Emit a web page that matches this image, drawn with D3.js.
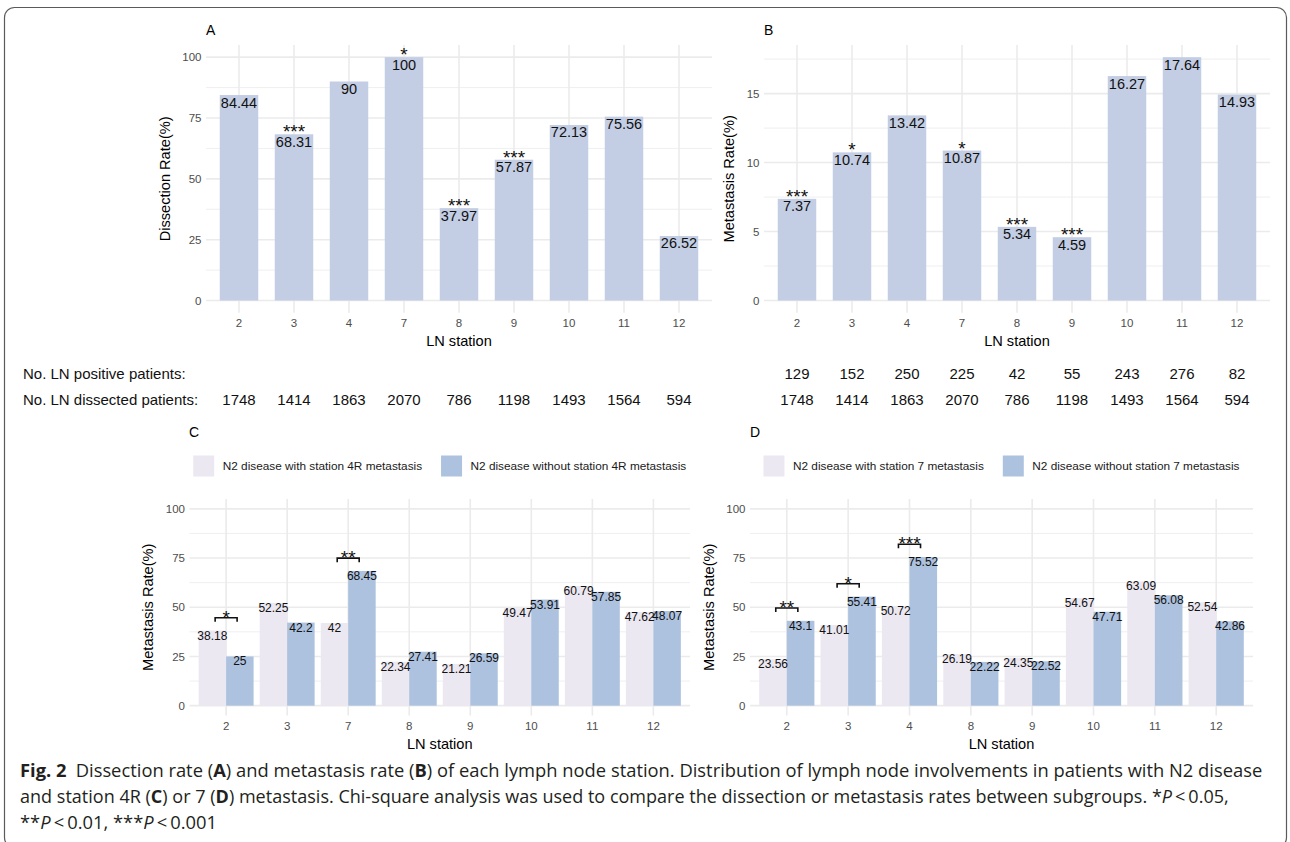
<!DOCTYPE html>
<html>
<head>
<meta charset="utf-8">
<script src="https://cdn.jsdelivr.net/npm/d3@7"></script>
<style>
  html, body { margin: 0; padding: 0; background: #fff; }
  svg { display: block; }
</style>
</head>
<body>
<div class="chart"></div>
<script>
// panel A / B data
const stationsAB = ['2', '3', '4', '7', '8', '9', '10', '11', '12'];
const dissectionRate = [84.44, 68.31, 90, 100, 37.97, 57.87, 72.13, 75.56, 26.52];
const dissectionSig = ['', '***', '', '*', '***', '***', '', '', ''];
const metastasisRate = [7.37, 10.74, 13.42, 10.87, 5.34, 4.59, 16.27, 17.64, 14.93];
const metastasisSig = ['***', '*', '', '*', '***', '***', '', '', ''];
const positivePatients = [129, 152, 250, 225, 42, 55, 243, 276, 82];
const dissectedPatients = [1748, 1414, 1863, 2070, 786, 1198, 1493, 1564, 594];

// panel C data
const stationsC = ['2', '3', '7', '8', '9', '10', '11', '12'];
const with4R = [38.18, 52.25, 42, 22.34, 21.21, 49.47, 60.79, 47.62];
const without4R = [25, 42.2, 68.45, 27.41, 26.59, 53.91, 57.85, 48.07];
const sigC = ['*', '', '**', '', '', '', '', ''];
const legendC = ['N2 disease with station 4R metastasis', 'N2 disease without station 4R metastasis'];

// panel D data
const stationsD = ['2', '3', '4', '8', '9', '10', '11', '12'];
const with7 = [23.56, 41.01, 50.72, 26.19, 24.35, 54.67, 63.09, 52.54];
const without7 = [43.1, 55.41, 75.52, 22.22, 22.52, 47.71, 56.08, 42.86];
const sigD = ['**', '*', '***', '', '', '', '', ''];
const legendD = ['N2 disease with station 7 metastasis', 'N2 disease without station 7 metastasis'];

const ticksPct = [0, 25, 50, 75, 100];
const ticksB = [0, 5, 10, 15];

const width = 1290;
const height = 842;

const color = {
  bar: '#c3cde4',
  withMet: '#ece8f1',
  withoutMet: '#adc2df',
  grid: '#ebebeb',
  tick: '#4d4d4d',
  text: '#111',
};
const font = '"Liberation Sans", Arial, sans-serif';

const svg = d3.select('.chart')
  .append('svg')
    .attr('width', width)
    .attr('height', height)
    .attr('viewBox', [0, 0, width, height]);

// outer frame
svg.append('rect')
  .attr('x', 4.5)
  .attr('y', 7.5)
  .attr('width', 1282)
  .attr('height', 840)
  .attr('rx', 10)
  .attr('fill', 'none')
  .attr('stroke', '#5a5a5a')
  .attr('stroke-width', 1.2);

function panel(opt) {
  const g = svg.append('g').style('font-family', font);
  const {left, right, top, bottom} = opt;

  const x = d3.scaleBand()
    .domain(opt.stations)
    .range([left, right])
    .paddingInner(0)
    .paddingOuter(0.1);

  const y = d3.scaleLinear()
    .domain(opt.domain)
    .range([bottom, top]);

  // minor grid: halfway between major ticks
  const step = opt.ticks[1] - opt.ticks[0];
  const minor = opt.ticks.map(t => t + step / 2)
    .filter(t => t < opt.domain[1]);

  g.append('g')
    .selectAll('line')
    .data(minor)
    .join('line')
      .attr('x1', left).attr('x2', right)
      .attr('y1', d => y(d)).attr('y2', d => y(d))
      .attr('stroke', color.grid)
      .attr('stroke-width', 0.8);

  g.append('g')
    .selectAll('line')
    .data(opt.ticks)
    .join('line')
      .attr('x1', left).attr('x2', right)
      .attr('y1', d => y(d)).attr('y2', d => y(d))
      .attr('stroke', color.grid)
      .attr('stroke-width', 1.6);

  g.append('g')
    .selectAll('line')
    .data(opt.stations)
    .join('line')
      .attr('x1', d => x(d) + x.bandwidth() / 2)
      .attr('x2', d => x(d) + x.bandwidth() / 2)
      .attr('y1', top).attr('y2', bottom)
      .attr('stroke', color.grid)
      .attr('stroke-width', 1.6);

  // axes
  const yAxis = g.append('g')
    .attr('transform', `translate(${left},0)`)
    .call(d3.axisLeft(y).tickValues(opt.ticks).tickSize(0).tickPadding(4.5));
  yAxis.select('.domain').remove();
  yAxis.selectAll('text')
    .attr('fill', color.tick)
    .style('font-size', '11.5px')
    .style('font-family', font);

  const xAxis = g.append('g')
    .attr('transform', `translate(0,${bottom})`)
    .call(d3.axisBottom(x).tickSize(0).tickPadding(6));
  xAxis.select('.domain').remove();
  xAxis.selectAll('text')
    .attr('fill', color.tick)
    .style('font-size', '11.5px')
    .style('font-family', font);

  let maxW = 0;
  yAxis.selectAll('text').each(function() {
    maxW = Math.max(maxW, this.getComputedTextLength());
  });

  // titles
  g.append('text')
    .attr('transform', `translate(${left - 4.5 - maxW - 12.5},${(top + bottom) / 2}) rotate(-90)`)
    .attr('text-anchor', 'middle')
    .style('font-size', '14.6px')
    .attr('fill', '#000')
    .text(opt.yTitle);

  g.append('text')
    .attr('x', (left + right) / 2)
    .attr('y', bottom + 33.5)
    .attr('text-anchor', 'middle')
    .style('font-size', '14.6px')
    .attr('fill', '#000')
    .text('LN station');

  g.append('text')
    .attr('x', opt.labelX)
    .attr('y', opt.labelY)
    .style('font-size', '14px')
    .attr('fill', '#000')
    .text(opt.label);

  return {g, x, y};
}

function singleBars(opt) {
  const {g, x, y} = panel(opt);
  const bw = x.bandwidth() * 0.7;
  const rows = opt.stations.map((s, i) => ({s, v: opt.values[i], sig: opt.sig[i]}));

  g.append('g')
    .selectAll('rect')
    .data(rows)
    .join('rect')
      .attr('x', d => x(d.s) + x.bandwidth() / 2 - bw / 2)
      .attr('width', bw)
      .attr('y', d => y(d.v))
      .attr('height', d => y(0) - y(d.v))
      .attr('fill', color.bar);

  g.append('g')
    .selectAll('text')
    .data(rows)
    .join('text')
      .attr('x', d => x(d.s) + x.bandwidth() / 2)
      .attr('y', d => y(d.v) + 12.5)
      .attr('text-anchor', 'middle')
      .style('font-size', '14.5px')
      .attr('fill', color.text)
      .text(d => String(d.v));

  g.append('g')
    .selectAll('text')
    .data(rows.filter(d => d.sig))
    .join('text')
      .attr('x', d => x(d.s) + x.bandwidth() / 2)
      .attr('y', d => y(d.v) + 4)
      .attr('text-anchor', 'middle')
      .style('font-size', '19px')
      .attr('fill', color.text)
      .text(d => d.sig);

  return {g, x, y};
}

function groupedBars(opt) {
  const {g, x, y} = panel(opt);
  const half = x.bandwidth() * 0.45;
  const rows = opt.stations.map((s, i) => ({s, a: opt.a[i], b: opt.b[i], sig: opt.sig[i]}));
  const cx = d => x(d.s) + x.bandwidth() / 2;

  const series = [
    {key: 'a', fill: color.withMet, off: -half},
    {key: 'b', fill: color.withoutMet, off: 0},
  ];

  series.forEach(sr => {
    g.append('g')
      .selectAll('rect')
      .data(rows)
      .join('rect')
        .attr('x', d => cx(d) + sr.off)
        .attr('width', half)
        .attr('y', d => y(d[sr.key]))
        .attr('height', d => y(0) - y(d[sr.key]))
        .attr('fill', sr.fill);
  });

  series.forEach(sr => {
    g.append('g')
      .selectAll('text')
      .data(rows)
      .join('text')
        .attr('x', d => cx(d) + sr.off + half / 2)
        .attr('y', d => y(d[sr.key]) + 9)
        .attr('text-anchor', 'middle')
        .style('font-size', '12px')
        .attr('fill', color.text)
        .text(d => String(d[sr.key]));
  });

  // significance brackets
  const sigRows = rows.filter(d => d.sig);
  const bx = x.bandwidth() * 0.18;
  const by = d => y(Math.max(d.a, d.b) + 6.5);

  g.append('g')
    .selectAll('path')
    .data(sigRows)
    .join('path')
      .attr('d', d => d3.line()([
        [cx(d) - bx, by(d) + 4], [cx(d) - bx, by(d)],
        [cx(d) + bx, by(d)], [cx(d) + bx, by(d) + 4]]))
      .attr('fill', 'none')
      .attr('stroke', '#111')
      .attr('stroke-width', 1.6);

  g.append('g')
    .selectAll('text')
    .data(sigRows)
    .join('text')
      .attr('x', d => cx(d))
      .attr('y', d => by(d) + 6)
      .attr('text-anchor', 'middle')
      .style('font-size', '19px')
      .attr('fill', color.text)
      .text(d => d.sig);

  // legend centred over the panel
  const lg = g.append('g');
  const items = [
    {label: opt.legend[0], fill: color.withMet},
    {label: opt.legend[1], fill: color.withoutMet},
  ];
  let pos = 0;
  items.forEach(it => {
    const item = lg.append('g').attr('transform', `translate(${pos},0)`);
    item.append('rect')
      .attr('x', 0).attr('y', -10.5)
      .attr('width', 21).attr('height', 21)
      .attr('fill', it.fill);
    const t = item.append('text')
      .attr('x', 29.5)
      .attr('y', 4.2)
      .style('font-size', '11.8px')
      .attr('fill', '#1a1a1a')
      .text(it.label);
    pos += 29.5 + t.node().getComputedTextLength() + 19;
  });
  const lw = pos - 19;
  lg.attr('transform', `translate(${(opt.left + opt.right) / 2 - lw / 2},${opt.legendY})`);
}

// A
const panelA = singleBars({
  stations: stationsAB, values: dissectionRate, sig: dissectionSig,
  ticks: ticksPct, domain: [-5, 105],
  left: 206, right: 712, top: 45, bottom: 312.7,
  yTitle: 'Dissection Rate(%)', label: 'A', labelX: 206, labelY: 35,
});

// B
const bMax = d3.max(metastasisRate);
const panelB = singleBars({
  stations: stationsAB, values: metastasisRate, sig: metastasisSig,
  ticks: ticksB, domain: [-bMax * 0.05, bMax * 1.05],
  left: 764, right: 1270, top: 45, bottom: 312.7,
  yTitle: 'Metastasis Rate(%)', label: 'B', labelX: 764, labelY: 35,
});

// patient counts under A and B
const table = svg.append('g')
  .style('font-family', font)
  .style('font-size', '15px')
  .attr('fill', '#111');

table.append('text').attr('x', 23).attr('y', 378.5).text('No. LN positive patients:');
table.append('text').attr('x', 23).attr('y', 404.5).text('No. LN dissected patients:');

const mid = sc => d => sc(d) + sc.bandwidth() / 2;
table.append('g')
  .selectAll('text')
  .data(dissectedPatients)
  .join('text')
    .attr('x', (d, i) => mid(panelA.x)(stationsAB[i]))
    .attr('y', 404.5)
    .attr('text-anchor', 'middle')
    .text(d => d);

table.append('g')
  .selectAll('text')
  .data(positivePatients)
  .join('text')
    .attr('x', (d, i) => mid(panelB.x)(stationsAB[i]))
    .attr('y', 378.5)
    .attr('text-anchor', 'middle')
    .text(d => d);

table.append('g')
  .selectAll('text')
  .data(dissectedPatients)
  .join('text')
    .attr('x', (d, i) => mid(panelB.x)(stationsAB[i]))
    .attr('y', 404.5)
    .attr('text-anchor', 'middle')
    .text(d => d);

// C
groupedBars({
  stations: stationsC, a: with4R, b: without4R, sig: sigC, legend: legendC,
  ticks: ticksPct, domain: [-5, 105],
  left: 189.5, right: 690, top: 499, bottom: 715.5, legendY: 466,
  yTitle: 'Metastasis Rate(%)', label: 'C', labelX: 189, labelY: 437,
});

// D
groupedBars({
  stations: stationsD, a: with7, b: without7, sig: sigD, legend: legendD,
  ticks: ticksPct, domain: [-5, 105],
  left: 750, right: 1253, top: 499, bottom: 715.5, legendY: 466,
  yTitle: 'Metastasis Rate(%)', label: 'D', labelX: 750, labelY: 437,
});

// caption
const captionLines = [
  [['Fig. 2', 'b'], ['\u2002Dissection rate ('], ['A', 'b'], [') and metastasis rate ('], ['B', 'b'],
   [') of each lymph node station. Distribution of lymph node involvements in patients with N2 disease']],
  [['and station 4R ('], ['C', 'b'], [') or 7 ('], ['D', 'b'],
   [') metastasis. Chi-square analysis was used to compare the dissection or metastasis rates between subgroups. *'],
   ['P', 'i'], ['\u2009<\u20090.05,']],
  [['**'], ['P', 'i'], ['\u2009<\u20090.01, ***'], ['P', 'i'], ['\u2009<\u20090.001']],
];
// line widths in the figure, in pixels
const captionWidths = [1243, 1209, null];

const cap = svg.append('g')
  .style('font-family', '"Open Sans", "Noto Sans", sans-serif')
  .style('font-size', '17.5px')
  .attr('fill', '#231f20');

const capLines = captionLines.map((parts, i) => {
  const t = cap.append('text')
    .attr('y', 777 + i * 26)
    .style('white-space', 'pre');
  parts.forEach(p => {
    t.append('tspan')
      .style('font-weight', p[1] === 'b' ? 700 : 400)
      .style('font-style', p[1] === 'i' ? 'italic' : 'normal')
      .text(p[0]);
  });
  return t;
});

const baseScale = captionWidths[0] / capLines[0].node().getComputedTextLength();
capLines.forEach((t, i) => {
  const s = captionWidths[i] ? captionWidths[i] / t.node().getComputedTextLength() : baseScale;
  t.attr('transform', `translate(20,0) scale(${s},1)`);
});
</script>
</body>
</html>
